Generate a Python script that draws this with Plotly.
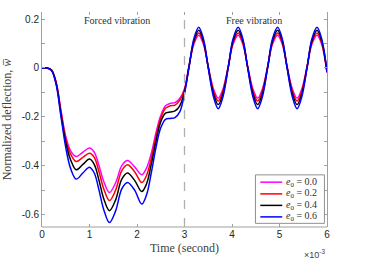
import plotly.graph_objects as go

time_ms = [0, 0.1, 0.2, 0.3, 0.4, 0.5, 0.6, 0.72, 0.86, 1.0, 1.1, 1.2, 1.3, 1.42, 1.55, 1.68, 1.8, 1.95, 2.1,
           2.2, 2.3, 2.4, 2.5, 2.6, 2.7, 2.8, 2.9, 3.0, 3.09, 3.2, 3.3, 3.4, 3.5, 3.61, 3.71, 3.81, 3.92,
           4.02, 4.13, 4.23, 4.33, 4.44, 4.54, 4.64, 4.75, 4.85, 4.96, 5.06, 5.16, 5.27, 5.37, 5.47, 5.58,
           5.68, 5.79, 5.89, 6.0]

w_e00 = [0, 0, -0.008, -0.06, -0.175, -0.28, -0.338, -0.362, -0.345, -0.328, -0.345, -0.40, -0.465, -0.51,
         -0.47, -0.40, -0.379, -0.405, -0.437, -0.41, -0.35, -0.265, -0.195, -0.155, -0.145, -0.142, -0.125,
         -0.085, 0.003, 0.099, 0.134, 0.096, 0.005, -0.086, -0.124, -0.086, 0.005, 0.096, 0.134, 0.096,
         0.005, -0.086, -0.124, -0.086, 0.005, 0.096, 0.134, 0.096, 0.005, -0.086, -0.124, -0.086, 0.005,
         0.096, 0.134, 0.096, -0.02]
w_e02 = [0, 0, -0.008, -0.062, -0.18, -0.29, -0.352, -0.383, -0.366, -0.349, -0.366, -0.425, -0.495, -0.543,
         -0.50, -0.42, -0.396, -0.425, -0.469, -0.44, -0.37, -0.28, -0.205, -0.165, -0.155, -0.152, -0.133,
         -0.09, 0.002, 0.105, 0.143, 0.102, 0.004, -0.094, -0.135, -0.094, 0.004, 0.102, 0.143, 0.102,
         0.004, -0.094, -0.135, -0.094, 0.004, 0.102, 0.143, 0.102, 0.004, -0.094, -0.135, -0.094, 0.004,
         0.102, 0.143, 0.102, -0.018]
w_e04 = [0, 0, -0.009, -0.065, -0.19, -0.305, -0.375, -0.417, -0.395, -0.373, -0.395, -0.46, -0.535, -0.584,
         -0.54, -0.455, -0.43, -0.46, -0.506, -0.475, -0.395, -0.30, -0.22, -0.185, -0.18, -0.176, -0.155,
         -0.097, -0.001, 0.113, 0.154, 0.109, 0.002, -0.105, -0.150, -0.105, 0.002, 0.109, 0.154, 0.109,
         0.002, -0.105, -0.150, -0.105, 0.002, 0.109, 0.154, 0.109, 0.002, -0.105, -0.150, -0.105, 0.002,
         0.109, 0.154, 0.109, -0.016]
w_e06 = [0, 0, -0.01, -0.07, -0.20, -0.325, -0.41, -0.455, -0.43, -0.406, -0.43, -0.50, -0.58, -0.633,
         -0.585, -0.495, -0.469, -0.50, -0.557, -0.52, -0.43, -0.325, -0.245, -0.21, -0.207, -0.203, -0.18,
         -0.105, -0.003, 0.122, 0.167, 0.118, 0.0, -0.118, -0.167, -0.118, 0.0, 0.118, 0.167, 0.118,
         0.0, -0.118, -0.167, -0.118, 0.0, 0.118, 0.167, 0.118, 0.0, -0.118, -0.167, -0.118, 0.0,
         0.118, 0.167, 0.118, -0.015]

series_names = ["<i>e</i><sub>0</sub> = 0.0", "<i>e</i><sub>0</sub> = 0.2",
                "<i>e</i><sub>0</sub> = 0.4", "<i>e</i><sub>0</sub> = 0.6"]
series_values = [w_e00, w_e02, w_e04, w_e06]
series_colors = ["#ff00ff", "#ff0000", "#000000", "#0000ff"]

x_ticks = [0, 1, 2, 3, 4, 5, 6]
y_ticks = [-0.6, -0.4, -0.2, 0, 0.2]
y_ticktext = ["-0.6", "-0.4", "-0.2", "0", "0.2"]

serif = "Liberation Serif"
sans = "Liberation Sans"
axis_col = "#a0a0a0"

fig = go.Figure()
for name, vals, col in zip(series_names, series_values, series_colors):
    fig.add_trace(go.Scatter(x=time_ms, y=vals, mode="lines", name=name, showlegend=False,
                             line=dict(color=col, width=1.5, shape="spline", smoothing=1.0)))

fig.update_layout(
    width=369, height=259, autosize=False,
    margin=dict(l=42, r=42, t=12, b=32),
    plot_bgcolor="white", paper_bgcolor="white",
    showlegend=False,
    font=dict(family=sans, size=10, color="#262626"),
)
fig.update_xaxes(range=[0, 6], tickvals=x_ticks, ticks="inside", ticklen=3, tickcolor=axis_col,
                 showline=False, mirror="ticks", automargin=False,
                 showgrid=False, zeroline=False,
                 tickfont=dict(family=sans, size=10, color="#262626"),
                 title=dict(text="Time (second)", font=dict(family=serif, size=12, color="#404040"),
                            standoff=4))
fig.update_yaxes(range=[-0.651, 0.229], tickvals=y_ticks, ticktext=y_ticktext, ticks="inside",
                 ticklen=3, tickcolor=axis_col,
                 minor=dict(dtick=0.1, tick0=0, ticks="inside", ticklen=3, tickcolor=axis_col),
                 showline=True, linecolor=axis_col, linewidth=1, mirror="ticks", automargin=False,
                 showgrid=False, zeroline=False,
                 tickfont=dict(family=sans, size=10, color="#262626"),
                 title=dict(text="Normalized deflection, <i>w̅</i>",
                            font=dict(family=serif, size=12, color="#404040"), standoff=7))

# bottom axis line (the reference shows no top border line)
fig.add_shape(type="line", x0=0, x1=1, y0=0, y1=0, xref="paper", yref="paper",
              line=dict(color=axis_col, width=1))
fig.add_shape(type="line", x0=3, x1=3, y0=0, y1=1, xref="x", yref="paper",
              line=dict(color="#b0b0b0", width=1.3, dash="dash"))

fig.add_annotation(x=1.58, y=0.195, xref="x", yref="y", text="Forced vibration", showarrow=False,
                   font=dict(family=serif, size=10, color="#303030"))
fig.add_annotation(x=4.46, y=0.195, xref="x", yref="y", text="Free vibration", showarrow=False,
                   font=dict(family=serif, size=10, color="#303030"))
fig.add_annotation(x=1.0, y=0, xref="paper", yref="paper", xanchor="right", yanchor="top",
                   yshift=-19, text="×10<sup>-3</sup>", showarrow=False,
                   font=dict(family=sans, size=9, color="#404040"))

# legend box drawn in the plot's paper coordinates
fig.add_shape(type="rect", xref="paper", yref="paper", x0=0.749, x1=0.991, y0=0.017, y1=0.2425,
              line=dict(color="#909090", width=1), fillcolor="white", layer="above")
legend_rows = [0.2085, 0.154, 0.1005, 0.047]
for name, col, yy in zip(series_names, series_colors, legend_rows):
    fig.add_shape(type="line", xref="paper", yref="paper", x0=0.766, x1=0.843, y0=yy, y1=yy,
                  line=dict(color=col, width=1.5), layer="above")
    fig.add_annotation(x=0.849, y=yy, xref="paper", yref="paper", xanchor="left", yanchor="middle",
                       text=name, showarrow=False,
                       font=dict(family=serif, size=10, color="#303030"))

fig.write_html("out.html", config={"displayModeBar": False},
               post_script="document.body.style.margin='0';")
